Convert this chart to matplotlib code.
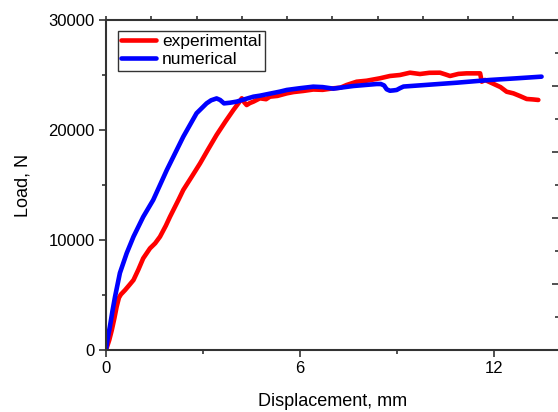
import numpy as np
import matplotlib
matplotlib.use("Agg")
import matplotlib.pyplot as plt
from matplotlib.ticker import MultipleLocator, NullFormatter

plt.rcParams['font.family'] = ['Liberation Sans', 'DejaVu Sans']

# experimental curve (displacement mm, load N)
exp_x = [0.0, 0.10, 0.18, 0.26, 0.33, 0.40, 0.46, 0.59, 0.72, 0.85, 1.00, 1.15, 1.36,
         1.52, 1.67, 1.85, 1.98, 2.24, 2.39, 2.65, 2.91, 3.15, 3.42, 3.70, 3.94, 4.10,
         4.20, 4.28, 4.35, 4.45, 4.56, 4.76, 4.95, 5.07, 5.30, 5.59, 5.80, 6.10, 6.41,
         6.70, 7.03, 7.25, 7.44, 7.75, 8.06, 8.47, 8.78, 9.09, 9.40, 9.71, 10.00,
         10.33, 10.50, 10.64, 10.90, 11.15, 11.46, 11.57, 11.62, 11.72, 11.98, 12.20,
         12.39, 12.60, 12.80, 13.01, 13.20, 13.37]
exp_y = [0, 900, 1820, 2900, 3940, 4750, 5050, 5450, 5900, 6360, 7300, 8330, 9240,
         9700, 10300, 11300, 12120, 13640, 14550, 15750, 16970, 18200, 19550, 20800,
         21820, 22450, 22880, 22500, 22270, 22450, 22580, 22880, 22800, 23030, 23100,
         23330, 23450, 23550, 23680, 23650, 23790, 23850, 24090, 24390, 24480, 24700,
         24910, 25000, 25210, 25090, 25200, 25210, 25050, 24910, 25100, 25150, 25150,
         25150, 24390, 24550, 24200, 23900, 23480, 23330, 23090, 22820, 22780, 22730]

# numerical curve
num_x = [0.0, 0.05, 0.12, 0.20, 0.28, 0.43, 0.64, 0.85, 1.15, 1.46, 1.88, 2.39, 2.80,
         3.00, 3.11, 3.25, 3.42, 3.53, 3.65, 3.84, 4.04, 4.56, 4.76, 5.38, 5.59, 6.00,
         6.41, 6.70, 7.03, 7.65, 8.37, 8.50, 8.60, 8.68, 8.78, 8.89, 8.99, 9.09, 9.20,
         10.00, 10.85, 11.88, 12.70, 13.47]
num_y = [0, 1000, 2120, 3550, 4850, 7000, 8800, 10300, 12100, 13640, 16360, 19390,
         21520, 22100, 22420, 22700, 22870, 22730, 22420, 22480, 22580, 23030, 23120,
         23490, 23640, 23800, 23940, 23900, 23760, 24000, 24180, 24180, 24050, 23700,
         23570, 23600, 23640, 23800, 23950, 24120, 24300, 24550, 24700, 24850]

W, H = 558, 412
fig = plt.figure(figsize=(W / 100, H / 100), dpi=100)
left, right, top, bottom = 106, 558.7, 20, 350
ax = fig.add_axes([left / W, 1 - bottom / H, (right - left) / W, (bottom - top) / H])

ax.plot(exp_x, exp_y, color='#ff0000', lw=3.3, label='experimental', solid_capstyle='round')
ax.plot(num_x, num_y, color='#0000ff', lw=3.3, label='numerical', solid_capstyle='round')

ax.set_xlim(0, 14)
ax.set_ylim(0, 30000)

ax.xaxis.set_major_locator(MultipleLocator(6))
ax.xaxis.set_minor_locator(MultipleLocator(3))
ax.yaxis.set_major_locator(MultipleLocator(10000))
ax.yaxis.set_minor_locator(MultipleLocator(5000))

spine_col = '#333333'
for s in ['left', 'bottom', 'top']:
    ax.spines[s].set_color(spine_col)
    ax.spines[s].set_linewidth(1.5)
ax.spines['right'].set_visible(False)

ax.tick_params(which='major', direction='out', length=5, width=1.2, color=spine_col,
               labelsize=12, pad=3)
ax.tick_params(which='minor', direction='out', length=3, width=1.2, color=spine_col)

# top ticks (separate scale)
sec_top = ax.secondary_xaxis('top')
sec_top.set_xticks(np.arange(0, 14.01, 1.4))
sec_top.xaxis.set_major_formatter(NullFormatter())
sec_top.tick_params(direction='out', length=3, width=1.2, color=spine_col)
sec_top.spines['top'].set_visible(False)

# right ticks
sec_r = ax.secondary_yaxis('right')
sec_r.yaxis.set_major_locator(MultipleLocator(6000))
sec_r.yaxis.set_minor_locator(MultipleLocator(3000))
sec_r.yaxis.set_major_formatter(NullFormatter())
sec_r.tick_params(which='major', direction='in', length=5, width=1.2, color=spine_col)
sec_r.tick_params(which='minor', direction='in', length=3, width=1.2, color=spine_col)

ax.set_xlabel('Displacement, mm', fontsize=13, labelpad=12)
ax.set_ylabel('Load, N', fontsize=13, labelpad=12)

leg = ax.legend(loc='upper left', bbox_to_anchor=(0.027, 0.968), fontsize=12.5,
                frameon=True, fancybox=False, edgecolor='#333333', framealpha=1,
                borderpad=0.18, handlelength=2.0, handletextpad=0.35,
                labelspacing=0.2, borderaxespad=0)
leg.get_frame().set_linewidth(1.0)

fig.savefig('out.png', dpi=100)
